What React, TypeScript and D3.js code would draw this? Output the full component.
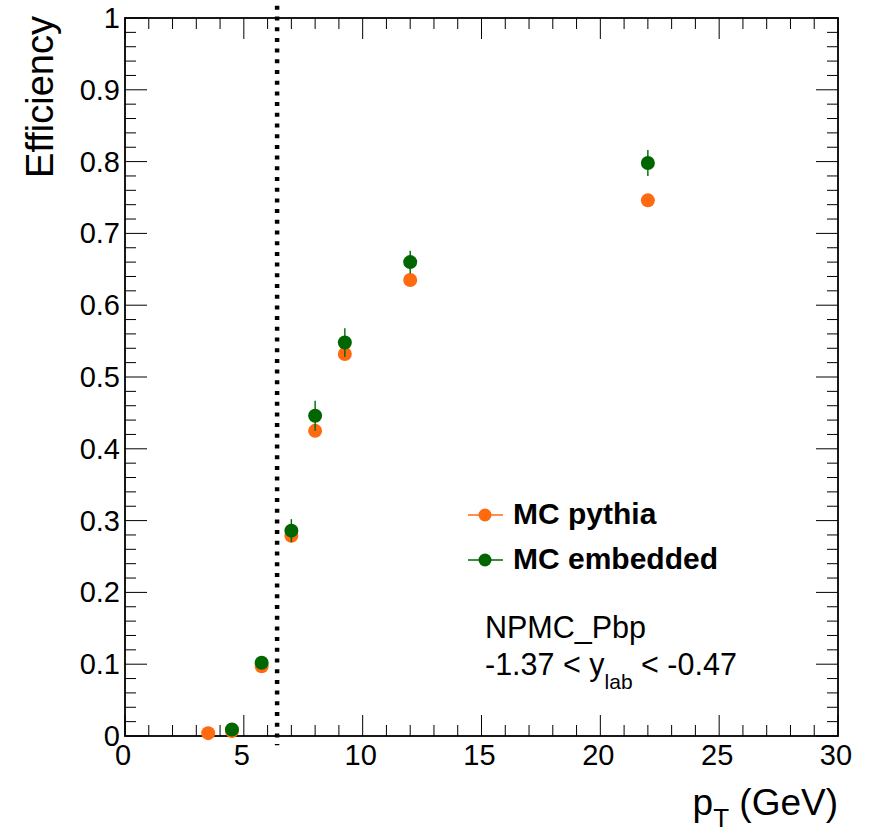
import React from "react";
import * as d3 from "d3";

const ptBins = [3.5, 4.5, 5.75, 7, 8, 9.25, 12, 22];
const pythiaEff = [0.004, 0.007, 0.097, 0.279, 0.425, 0.532, 0.635, 0.746];
const pythiaErr = [0.002, 0.002, 0.003, 0.004, 0.004, 0.004, 0.004, 0.004];
const embeddedEff = [0.0, 0.009, 0.102, 0.286, 0.446, 0.548, 0.66, 0.798];
const embeddedErr = [0.0, 0.003, 0.006, 0.016, 0.021, 0.02, 0.016, 0.018];
const embeddedShow = [false, true, true, true, true, true, true, true];
const xTicks = [0, 5, 10, 15, 20, 25, 30];
const yTicks = [0, 0.1, 0.2, 0.3, 0.4, 0.5, 0.6, 0.7, 0.8, 0.9, 1];
const cutPt = 6.4;
const legendLabels = ["MC pythia", "MC embedded"];

const ORANGE = "#ff6a10";
const GREEN = "#006600";
const FONT = "'Liberation Sans', Arial, Helvetica, sans-serif";

export default function App() {
  const W = 881, H = 833;
  const L = 125, R = 838, T = 18, B = 736;
  const x = d3.scaleLinear().domain([0, 30]).range([L, R]);
  const y = d3.scaleLinear().domain([0, 1]).range([B, T]);

  const xMinor = d3.range(0, 31, 1);
  const yMinor = d3.range(0, 1.0001, 0.02);

  const series = [
    { name: legendLabels[0], color: ORANGE, vals: pythiaEff, errs: pythiaErr, show: ptBins.map(() => true) },
    { name: legendLabels[1], color: GREEN, vals: embeddedEff, errs: embeddedErr, show: embeddedShow },
  ];

  return (
    <svg width={W} height={H} style={{ position: "absolute", left: 0, top: 0, background: "#fff" }} fontFamily={FONT}>
      <rect x={0} y={0} width={W} height={H} fill="#fff" />
      {/* ticks */}
      <g stroke="#000" strokeWidth={1}>
        {xMinor.map((v) => {
          const major = v % 5 === 0;
          const len = major ? 21 : 11;
          return (
            <g key={"xt" + v}>
              <line x1={x(v)} x2={x(v)} y1={B} y2={B - len} />
              <line x1={x(v)} x2={x(v)} y1={T} y2={T + len} />
            </g>
          );
        })}
        {yMinor.map((v, i) => {
          const major = i % 5 === 0;
          const len = major ? 22 : 11;
          return (
            <g key={"yt" + i}>
              <line x1={L} x2={L + len} y1={y(v)} y2={y(v)} />
              <line x1={R} x2={R - len} y1={y(v)} y2={y(v)} />
            </g>
          );
        })}
      </g>
      <rect x={L} y={T} width={R - L} height={B - T} fill="none" stroke="#000" strokeWidth={1.8} />

      {/* tick labels */}
      <g fontSize={29} fill="#000">
        {xTicks.map((v) => (
          <text key={"xl" + v} x={x(v) - 2} y={765} textAnchor="middle">{v}</text>
        ))}
        {yTicks.map((v) => (
          <text key={"yl" + v} x={120} y={y(v) + 10} textAnchor="end">{d3.format("~g")(v)}</text>
        ))}
      </g>

      {/* axis titles */}
      <text transform={`translate(53,16) rotate(-90)`} textAnchor="end" fontSize={38}>Efficiency</text>
      <text x={838} y={815} textAnchor="end" fontSize={37}>
        <tspan>p</tspan>
        <tspan fontSize={26} dy={12}>T</tspan>
        <tspan dy={-12}>{" (GeV)"}</tspan>
      </text>

      {/* cut line */}
      <line x1={x(cutPt)} x2={x(cutPt)} y1={y(1.017)} y2={y(-0.013)} stroke="#000" strokeWidth={4.5} strokeDasharray="4 6.7" />

      {/* data */}
      {series.map((s) => (
        <g key={s.name}>
          {ptBins.map((p, i) =>
            s.show[i] ? (
              <g key={i}>
                <line x1={x(p)} x2={x(p)} y1={y(s.vals[i] - s.errs[i])} y2={y(s.vals[i] + s.errs[i])} stroke={s.color} strokeWidth={1.4} />
                <circle cx={x(p)} cy={y(s.vals[i])} r={7} fill={s.color} />
              </g>
            ) : null
          )}
        </g>
      ))}

      {/* legend */}
      {series.map((s, i) => {
        const ly = 515 + i * 45;
        return (
          <g key={"lg" + i}>
            <line x1={468} x2={503} y1={ly} y2={ly} stroke={s.color} strokeWidth={1.4} />
            <circle cx={485} cy={ly} r={6.5} fill={s.color} />
            <text x={513} y={ly + 8.5} fontSize={30} fontWeight="bold" fill="#000">{s.name}</text>
          </g>
        );
      })}

      <text x={485} y={638} fontSize={30.5} fill="#000">NPMC_Pbp</text>
      <text x={485} y={675} fontSize={30.5} fill="#000">
        <tspan>{"-1.37 < y"}</tspan>
        <tspan fontSize={21} dy={14}>lab</tspan>
        <tspan dy={-14}>{" < -0.47"}</tspan>
      </text>
    </svg>
  );
}
